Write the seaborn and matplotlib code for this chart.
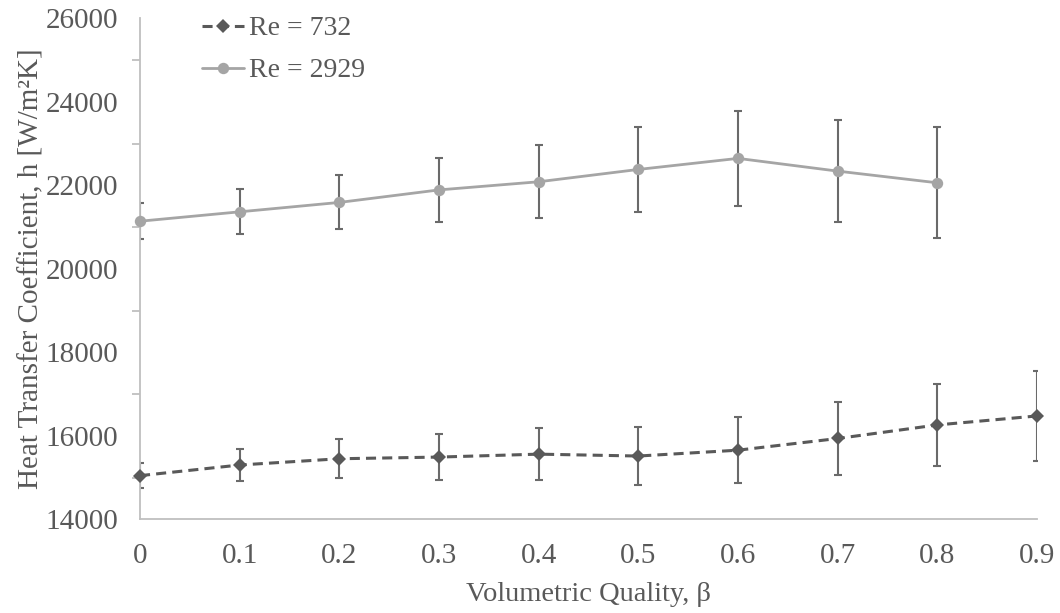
import matplotlib
matplotlib.use("Agg")
import matplotlib.pyplot as plt
from matplotlib.ticker import MultipleLocator
import numpy as np
import pandas as pd
import seaborn as sns

# Volumetric quality values
beta_732 = [0.0, 0.1, 0.2, 0.3, 0.4, 0.5, 0.6, 0.7, 0.8, 0.9]
beta_2929 = [0.0, 0.1, 0.2, 0.3, 0.4, 0.5, 0.6, 0.7, 0.8]

# Heat transfer coefficient h [W/m2K] and uncertainty
h_732 = [15045, 15300, 15450, 15490, 15560, 15515, 15655, 15935, 16260, 16475]
err_732 = [300, 375, 470, 550, 620, 705, 795, 880, 985, 1075]

h_2929 = [21140, 21365, 21590, 21890, 22085, 22380, 22645, 22340, 22060]
err_2929 = [430, 535, 645, 775, 880, 1010, 1135, 1230, 1325]

labels = ["Re = 732", "Re = 2929"]
xtick_labels = ["0", "0.1", "0.2", "0.3", "0.4", "0.5", "0.6", "0.7", "0.8", "0.9"]

sns.set_theme(style="white")
plt.rcParams["font.family"] = ["Liberation Serif", "DejaVu Serif"]

text_col = "#595959"
axis_col = "#bfbfbf"
dark = "#595959"
light = "#a5a5a5"
err_col = "#6a6a6a"

fig = plt.figure(figsize=(10.6, 6.13), dpi=100)
ax = fig.add_axes([0.1321, 0.1529, 0.9783 - 0.1321, 0.9701 - 0.1529])

df732 = pd.DataFrame({"beta": beta_732, "h": h_732})
df2929 = pd.DataFrame({"beta": beta_2929, "h": h_2929})

# error bars underneath the markers (clipped at the plot edges)
ax.errorbar(beta_732, h_732, yerr=err_732, fmt="none", ecolor=err_col,
            elinewidth=1.5, capsize=2.8, capthick=1.5, zorder=2)
ax.errorbar(beta_2929, h_2929, yerr=err_2929, fmt="none", ecolor=err_col,
            elinewidth=1.5, capsize=2.8, capthick=1.5, zorder=2)

# series lines; markers at the edges are drawn whole
sns.lineplot(data=df732, x="beta", y="h", ax=ax, color=dark, marker="D",
             markersize=7.5, markeredgewidth=0, linewidth=2.2,
             linestyle=(0, (3.3, 2.0)), label=labels[0], zorder=3,
             clip_on=False)
sns.lineplot(data=df2929, x="beta", y="h", ax=ax, color=light, marker="o",
             markersize=8.2, markeredgewidth=0, linewidth=2.0,
             label=labels[1], zorder=3, clip_on=False)

ax.set_xlim(0, 0.9)
ax.set_ylim(14000, 26000)
ax.set_xticks(np.round(np.arange(0, 0.91, 0.1), 1))
ax.set_xticklabels(xtick_labels)
ax.yaxis.set_major_locator(MultipleLocator(2000))
ax.yaxis.set_minor_locator(MultipleLocator(1000))

for side in ["top", "right"]:
    ax.spines[side].set_visible(False)
for side in ["left", "bottom"]:
    ax.spines[side].set_color(axis_col)
    ax.spines[side].set_linewidth(1.3)

ax.tick_params(axis="both", which="both", direction="out", color=axis_col,
               width=1.3, length=6, labelsize=21, labelcolor=text_col)
ax.tick_params(axis="y", which="major", pad=9.5)
ax.tick_params(axis="x", which="major", pad=11)
ax.tick_params(axis="y", which="minor", length=6, left=True)

ax.set_xlabel("Volumetric Quality, β", fontsize=20.5, color=text_col, labelpad=9.5)
ax.set_ylabel("Heat Transfer Coefficient, h [W/m²K]", fontsize=21,
              color=text_col, labelpad=1)

leg = ax.legend(loc="upper left", bbox_to_anchor=(0.057, 1.027), frameon=False,
                fontsize=20, handlelength=1.5, handletextpad=0.18,
                labelspacing=0.6, borderaxespad=0)
for t in leg.get_texts():
    t.set_color(text_col)

fig.savefig("out.png", dpi=100)
